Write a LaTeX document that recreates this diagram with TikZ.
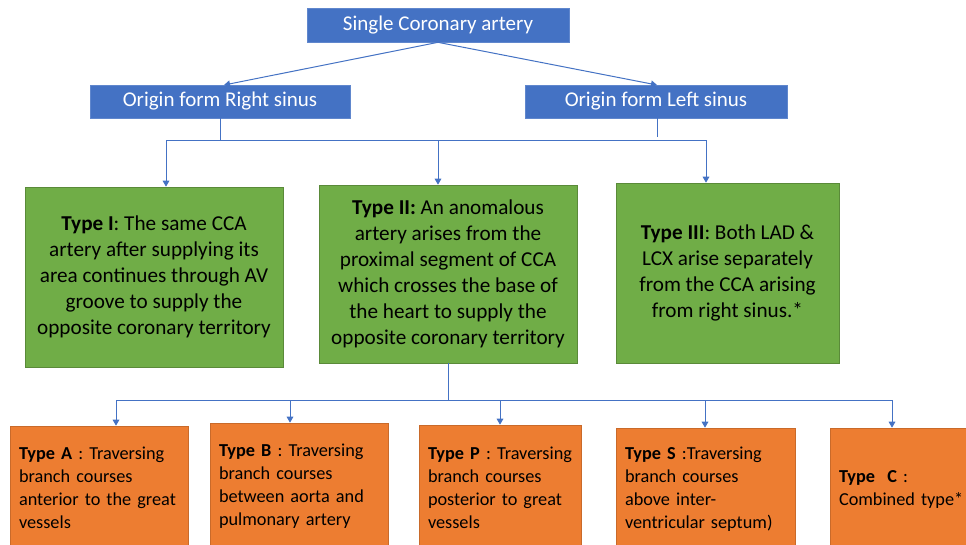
\documentclass[tikz,border=0pt]{standalone}
\usepackage{fontspec}
\setmainfont{Carlito}
\usetikzlibrary{arrows.meta}
\definecolor{cblue}{HTML}{4472C4}
\definecolor{cgreen}{HTML}{70AD47}
\definecolor{corange}{HTML}{ED7D31}
\definecolor{cline}{HTML}{4472C4}
\newcommand\oline[1]{\mbox{#1}}
\begin{document}
\begin{tikzpicture}[x=0.75pt,y=-0.75pt,
 bluebox/.style={fill=cblue, draw=cblue!85!white, line width=0.5pt, text=white, inner sep=0pt, font=\fontsize{15.75}{19}\selectfont},
 greenbox/.style={fill=cgreen, draw=cgreen!80!black, line width=0.5pt, inner sep=0pt, align=center, font=\fontsize{15.9}{19.5}\selectfont},
 orangebox/.style={fill=corange, draw=corange!85!black, line width=0.5pt, inner xsep=6.75pt, inner ysep=0pt, align=left, font=\fontsize{13.7}{17.25}\selectfont},
 conn/.style={draw=cline, line width=0.75pt},
 arr/.style={conn, -{Triangle[length=4.5pt,width=5pt]}}
]
\clip (0,0) rectangle (966,544);
\fill[white] (0,0) rectangle (966,544);

% top level
\node[bluebox, minimum width=262*0.75pt, minimum height=34*0.75pt] (top) at (438,25) {Single Coronary artery};
\node[bluebox, minimum width=260*0.75pt, minimum height=33*0.75pt] (rs) at (220,101.5) {Origin form Right sinus};
\node[bluebox, minimum width=262*0.75pt, minimum height=33*0.75pt] (ls) at (656,101.5) {Origin form Left sinus};

% green boxes
\node[greenbox, minimum width=258*0.75pt, minimum height=180*0.75pt] (t1) at (154,277)
 {\textbf{Type I}: The same CCA\\artery after supplying its\\area continues through AV\\groove to supply the\\opposite coronary territory};
\node[greenbox, minimum width=258*0.75pt, minimum height=178*0.75pt] (t2) at (448,274)
 {\textbf{Type II:} An anomalous\\artery arises from the\\proximal segment of CCA\\which crosses the base of\\the heart to supply the\\opposite coronary territory};
\node[greenbox, minimum width=223*0.75pt, minimum height=180*0.75pt] (t3) at (727.5,273)
 {\textbf{Type III}: Both LAD \&\\LCX arise separately\\from the CCA arising\\from right sinus.*};

% orange boxes
\node[orangebox, text width=160*0.75pt, minimum height=124*0.75pt] (ta) at (99,488)
 {\oline{\textbf{Type A} : Traversing}\\\oline{branch courses}\\\oline{anterior to the great}\\\oline{vessels}};
\node[orangebox, text width=160*0.75pt, minimum height=127*0.75pt] (tb) at (299,486.5)
 {\oline{\textbf{Type B} : Traversing}\\\oline{branch courses}\\\oline{between aorta and}\\\oline{pulmonary artery}};
\node[orangebox, text width=144*0.75pt, minimum height=125*0.75pt] (tp) at (500,487.5)
 {\oline{\textbf{Type P} : Traversing}\\\oline{branch courses}\\\oline{posterior to great}\\\oline{vessels}};
\node[orangebox, text width=161*0.75pt, minimum height=122*0.75pt] (ts) at (705.5,489)
 {\oline{\textbf{Type S} :Traversing}\\\oline{branch courses}\\\oline{above inter-}\\\oline{ventricular septum)}};
\node[orangebox, text width=160*0.75pt, minimum height=122*0.75pt] (tc) at (919,489)
 {\oline{\textbf{Type\ \ C} :}\\\oline{Combined type*}};

% connectors: top level
\coordinate (rsin) at (224,85);
\coordinate (lsin) at (657,85);
\draw[arr] (top.south) -- (rsin);
\draw[arr] (top.south) -- (lsin);

% bus 1
\coordinate (b1) at (166,140);
\coordinate (b2) at (438,140);
\coordinate (b3) at (706,140);
\coordinate (lsend) at (657,137);
\draw[conn] (rs.south) -- (rs.south |- b1);
\draw[conn] (ls.south -| lsend) -- (lsend);
\draw[conn] (b1) -- (b3);
\draw[arr] (b1) -- (b1 |- t1.north);
\draw[arr] (b2) -- (b2 |- t2.north);
\draw[arr] (b3) -- (b3 |- t3.north);

% bus 2
\coordinate (c0) at (448,400);
\coordinate (c1) at (116,400);
\coordinate (c2) at (290,400);
\coordinate (c3) at (500,400);
\coordinate (c4) at (705,400);
\coordinate (c5) at (892,400);
\draw[conn] (t2.south) -- (c0);
\draw[conn] (c1) -- (c5);
\draw[arr] (c1) -- (c1 |- ta.north);
\draw[arr] (c2) -- (c2 |- tb.north);
\draw[arr] (c3) -- (c3 |- tp.north);
\draw[arr] (c4) -- (c4 |- ts.north);
\draw[arr] (c5) -- (c5 |- tc.north);
\end{tikzpicture}
\end{document}
